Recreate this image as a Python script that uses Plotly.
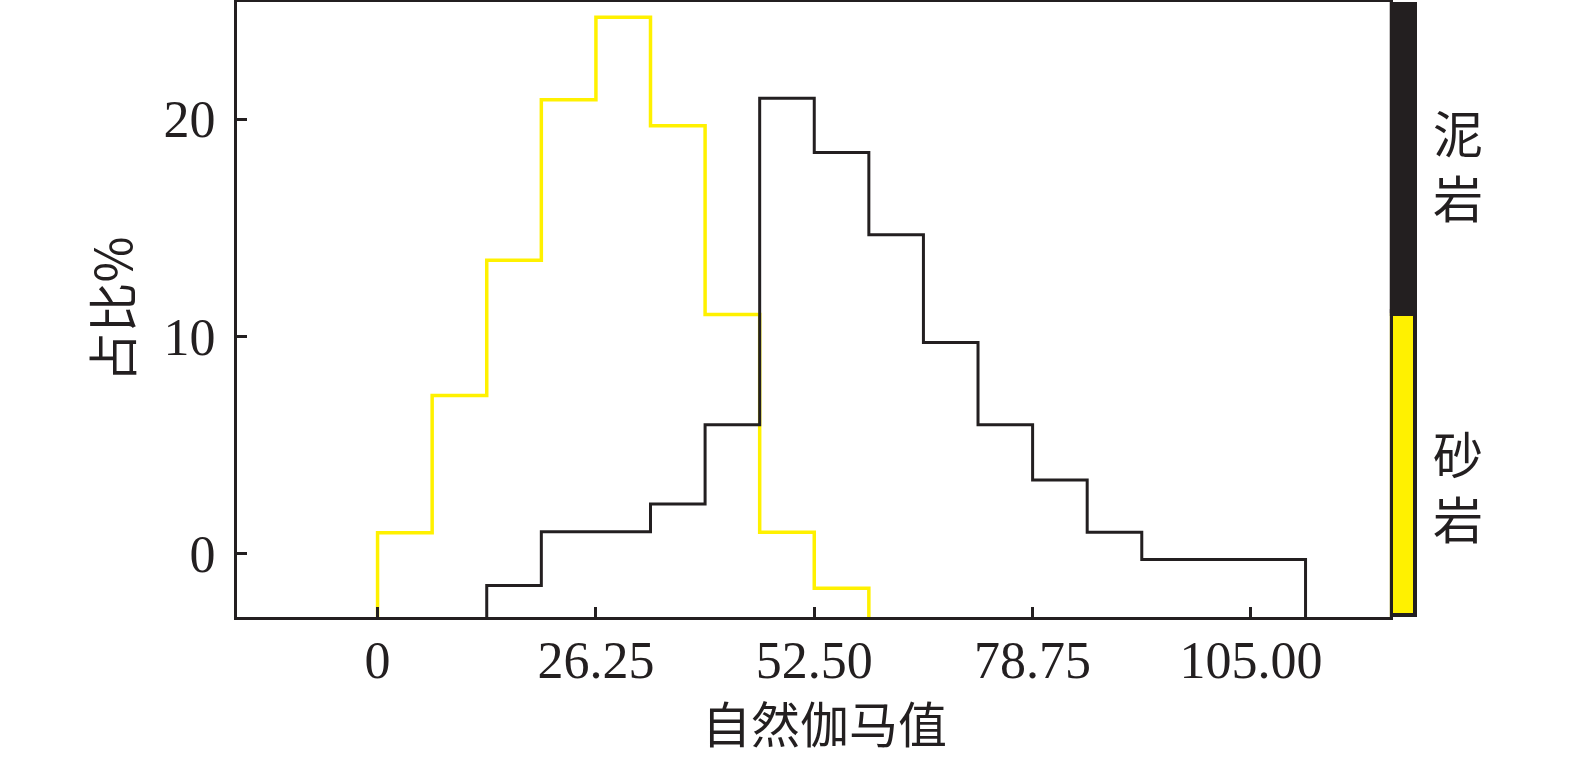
import plotly.graph_objects as go

# ---- data ----
bin_edges = [i * 6.5625 for i in range(18)]  # 0 .. 111.5625
sand_values = [0.95, 7.27, 13.5, 20.9, 24.7, 19.7, 11.0, 0.97, -1.6]          # bins starting at 0
sand_start_bin = 0
mud_values = [-1.48, 1.0, 1.0, 2.27, 5.93, 20.97, 18.47, 14.68, 9.72, 5.93,
              3.38, 0.97, -0.28, -0.28, -0.28]                                 # bins starting at 13.125
mud_start_bin = 2
x_tickvals = [0, 26.25, 52.5, 78.75, 105.0]
x_ticktext = ["0", "26.25", "52.50", "78.75", "105.00"]
y_tickvals = [0, 10, 20]
x_range = [-16.9, 121.7]
y_range = [-2.93, 25.4]
sand_fraction = 0.495
strip_labels = ["泥<br>岩", "砂<br>岩"]
x_title = "自然伽马值"
y_title = "占比%"

SAND = "#FFF100"
MUD = "#231F20"
NUM_FONT = "Liberation Serif"
CJK_FONT = "Noto Sans CJK SC"


def step_xy(values, start_bin, base):
    edges = bin_edges[start_bin:start_bin + len(values) + 1]
    xs = [edges[0]] + edges[:-1] + [edges[-1], edges[-1]]
    ys = [base] + values + [values[-1], base]
    return xs, ys


fig = go.Figure()
for vals, sb, col, w in [(sand_values, sand_start_bin, SAND, 3.5), (mud_values, mud_start_bin, MUD, 3)]:
    xs, ys = step_xy(vals, sb, y_range[0] - 1)
    fig.add_trace(go.Scatter(x=xs, y=ys, mode="lines", line=dict(color=col, width=w, shape="hv"),
                             showlegend=False, xaxis="x", yaxis="y"))

# right strip
fig.add_trace(go.Bar(x=[0.5], y=[sand_fraction], width=[1], marker=dict(color=SAND, line=dict(color=MUD, width=7)),
                     xaxis="x2", yaxis="y2", showlegend=False))
fig.add_trace(go.Bar(x=[0.5], y=[1 - sand_fraction], width=[1], marker=dict(color=MUD, line=dict(color=MUD, width=7)),
                     xaxis="x2", yaxis="y2", showlegend=False))

split = 0.977
fig.update_layout(
    width=1575, height=760,
    margin=dict(l=237, r=158, t=2, b=143, autoexpand=False),
    paper_bgcolor="white", plot_bgcolor="white",
    barmode="stack", bargap=0,
    xaxis=dict(domain=[0, split], range=x_range, tickvals=x_tickvals, ticktext=x_ticktext,
               ticks="inside", ticklen=10, tickwidth=3, tickcolor=MUD, ticklabelstandoff=-4,
               showline=True, linewidth=3, linecolor=MUD, mirror=True, showgrid=False, zeroline=False,
               tickfont=dict(family=NUM_FONT, size=52, color=MUD), automargin=False),
    yaxis=dict(range=y_range, tickvals=y_tickvals, ticks="inside", ticklen=10, tickwidth=3, tickcolor=MUD,
               showline=True, linewidth=3, linecolor=MUD, mirror=True, showgrid=False, zeroline=False,
               tickfont=dict(family=NUM_FONT, size=52, color=MUD), ticklabelstandoff=8, automargin=False,
               title=dict(text=y_title, font=dict(family=CJK_FONT, size=50, color=MUD), standoff=16)),
    xaxis2=dict(domain=[split, 1], range=[0, 1], visible=False, anchor="y2"),
    yaxis2=dict(domain=[0, 1], range=[0, 1], visible=False, anchor="x2"),
)

fig.add_annotation(text=x_title, xref="paper", yref="paper", x=0.498, y=-0.17,
                   xanchor="center", yanchor="middle", showarrow=False,
                   font=dict(family=CJK_FONT, size=49, color=MUD))
fig.add_annotation(text=strip_labels[0], xref="paper", yref="paper", x=1.0, y=0.737,
                   xanchor="left", yanchor="middle", xshift=14, showarrow=False, align="center",
                   font=dict(family=CJK_FONT, size=50, color=MUD))
fig.add_annotation(text=strip_labels[1], xref="paper", yref="paper", x=1.0, y=0.216,
                   xanchor="left", yanchor="middle", xshift=14, showarrow=False, align="center",
                   font=dict(family=CJK_FONT, size=50, color=MUD))

fig.write_html("out.html", post_script="document.body.style.margin='0';",
               config={"displayModeBar": False})
